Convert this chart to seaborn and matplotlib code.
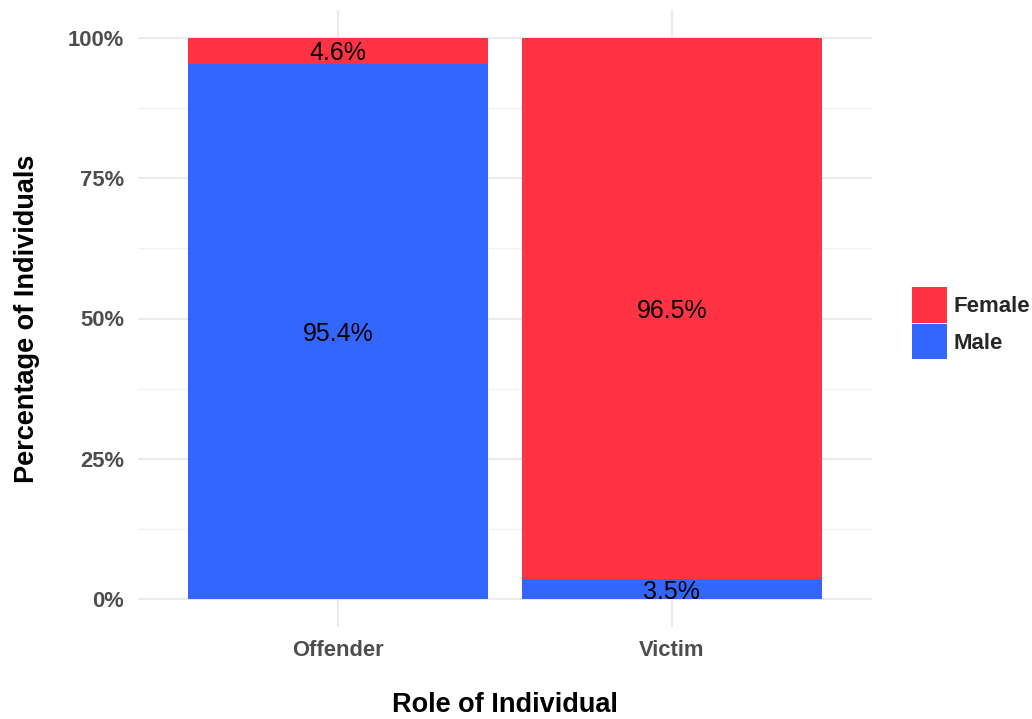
import matplotlib
matplotlib.use("Agg")
import matplotlib.pyplot as plt
import seaborn as sns
import pandas as pd
from matplotlib.patches import Patch
from matplotlib.ticker import FixedLocator

roles = ["Offender", "Victim"]
male = [95.4, 3.5]
female = [4.6, 96.5]
y_ticks = [0, 25, 50, 75, 100]
y_tick_labels = ["0%", "25%", "50%", "75%", "100%"]

RED = "#FF3344"
BLUE = "#3366FF"

sns.set_theme(style="white")
plt.rcParams["font.family"] = ["Liberation Sans", "DejaVu Sans"]

df = pd.DataFrame({"role": roles, "male": male, "female": female})
df["total"] = df["male"] + df["female"]

fig = plt.figure(figsize=(10.32, 7.19), dpi=100)
ax = fig.add_axes([138 / 1032, (719 - 627) / 719, (872 - 138) / 1032, (627 - 10) / 719])

sns.barplot(data=df, x="role", y="total", color=RED, width=0.9, saturation=1, ax=ax,
            zorder=2, linewidth=0, edgecolor="none")
sns.barplot(data=df, x="role", y="male", color=BLUE, width=0.9, saturation=1, ax=ax,
            zorder=3, linewidth=0, edgecolor="none")

ax.set_xlim(-0.6, 1.6)
ax.set_ylim(-5, 105)

# grid
ax.yaxis.set_major_locator(FixedLocator(y_ticks))
ax.set_yticklabels(y_tick_labels)
ax.yaxis.set_minor_locator(FixedLocator([12.5, 37.5, 62.5, 87.5]))
ax.grid(True, which="major", axis="both", color="#EBEBEB", lw=1.6, zorder=0)
ax.grid(True, which="minor", axis="y", color="#F2F2F2", lw=1.0, zorder=0)
ax.set_axisbelow(True)
for s in ax.spines.values():
    s.set_visible(False)
ax.tick_params(axis="both", which="both", length=0)
ax.tick_params(axis="x", pad=9)
ax.tick_params(axis="y", pad=10)
for lab in ax.get_xticklabels() + ax.get_yticklabels():
    lab.set_fontsize(15.8)
    lab.set_fontweight("bold")
    lab.set_color("#4D4D4D")

ax.set_xlabel("Role of Individual", fontsize=19.5, fontweight="bold", color="black", labelpad=23)
ax.set_ylabel("Percentage of Individuals", fontsize=19.5, fontweight="bold", color="black", labelpad=20)

# labels at segment middles
for i, r in df.iterrows():
    ax.text(i, r["male"] / 2, f"{r['male']:.1f}%", ha="center", va="center_baseline",
            fontsize=18, color="black", zorder=5)
    ax.text(i, r["male"] + r["female"] / 2, f"{r['female']:.1f}%", ha="center",
            va="center_baseline", fontsize=18, color="black", zorder=5)

handles = [Patch(facecolor=RED, edgecolor="none", label="Female"),
           Patch(facecolor=BLUE, edgecolor="none", label="Male")]
leg = fig.legend(handles=handles, loc="upper left", bbox_to_anchor=(908 / 1032, 1 - 283 / 719),
                 frameon=False, fontsize=16, handlelength=1.55, handleheight=2.05,
                 labelspacing=0.08, handletextpad=0.3, borderaxespad=0, borderpad=0.2)
for t in leg.get_texts():
    t.set_fontweight("bold")

fig.savefig("out.png", dpi=100)
